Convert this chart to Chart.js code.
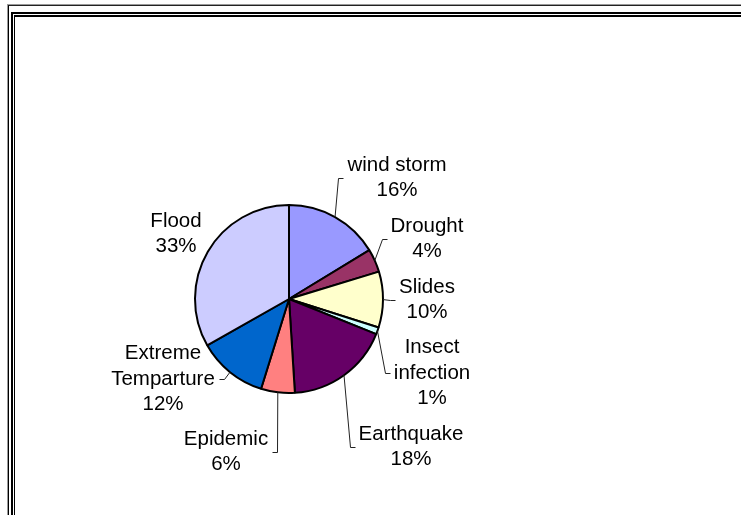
<!DOCTYPE html>
<html>
<head>
<meta charset="utf-8">
<script src="https://cdn.jsdelivr.net/npm/chart.js@4/dist/chart.umd.min.js"></script>
<style>
  html, body { margin: 0; padding: 0; background: #fff; }
  body { width: 741px; height: 515px; position: relative; overflow: hidden; }
  #wrap { position: absolute; left: 0; top: 0; width: 741px; height: 515px; }
  .frame { position: absolute; right: -20px; bottom: -20px; pointer-events: none; }
  #f1 { left: 7px; top: 4px; border-left: 1px solid #999; border-top: 1px solid #999; }
  #f1b { left: 8px; top: 5px; border-left: 1px solid #000; border-top: 1px solid #222; }
  #f2 { left: 11px; top: 12px; border-left: 2px solid #000; border-top: 2px solid #000; }
  #f3 { left: 14px; top: 15px; border-left: 1px solid #000; border-top: 2px solid #000; }
</style>
</head>
<body>
<div id="wrap"><canvas id="c" width="741" height="515"></canvas></div>
<div class="frame" id="f1"></div>
<div class="frame" id="f1b"></div>
<div class="frame" id="f2"></div>
<div class="frame" id="f3"></div>
<script>
// ---- data ----
const categories = ['wind storm', 'Drought', 'Slides', 'Insect infection', 'Earthquake', 'Epidemic', 'Extreme Temparture', 'Flood'];
const shares = [16.3, 4.0, 9.6, 1.2, 17.9, 5.8, 12.0, 33.2];
const sliceColors = ['#9999FF', '#993366', '#FFFFCC', '#CCFFFF', '#660066', '#FF8080', '#0066CC', '#CCCCFF'];

// ---- label layout (offsets of label block centre from pie centre, px) ----
const labelDX = [108, 138, 138, 143, 122, -63, -126, -113];
const labelDY = [-121, -60, 1, 74, 148, 153, 80, -65];
const labelWrap = [false, false, false, true, false, false, true, false];
const labelLeader = [true, true, true, true, true, true, true, false];

const FONT = '20.5px "Liberation Sans", Arial, sans-serif';
const LINE_H = 25.5;

const labelPlugin = {
  id: 'pieLabels',
  afterDatasetsDraw(chart) {
    const ctx = chart.ctx;
    const meta = chart.getDatasetMeta(0);
    const data = chart.data.datasets[0].data;
    const total = data.reduce((a, b) => a + b, 0);
    ctx.save();
    ctx.font = FONT;
    ctx.textAlign = 'center';
    ctx.textBaseline = 'middle';
    meta.data.forEach((arc, i) => {
      const p = arc.getProps(['x', 'y', 'startAngle', 'endAngle', 'outerRadius'], true);
      const name = chart.data.labels[i];
      const lines = labelWrap[i] ? name.split(' ') : [name];
      lines.push(Math.round(data[i] / total * 100) + '%');
      const cx = p.x + labelDX[i];
      const cy = p.y + labelDY[i];
      const w = Math.max(...lines.map(l => ctx.measureText(l).width));
      const top = cy - (lines.length - 1) * LINE_H / 2;
      ctx.fillStyle = '#000';
      lines.forEach((l, k) => ctx.fillText(l, cx, top + k * LINE_H));
      if (labelLeader[i]) {
        const mid = (p.startAngle + p.endAngle) / 2;
        const sx = p.x + Math.cos(mid) * p.outerRadius;
        const sy = p.y + Math.sin(mid) * p.outerRadius;
        const dir = labelDX[i] >= 0 ? 1 : -1;
        const endX = cx - dir * (w / 2 + 4);
        const elbowX = endX - dir * 5;
        const ey = Math.round(cy) + 0.5;
        ctx.strokeStyle = '#222';
        ctx.lineWidth = 1;
        ctx.beginPath();
        ctx.moveTo(sx, sy);
        ctx.lineTo(Math.round(elbowX) + 0.5, ey);
        ctx.lineTo(Math.round(endX) + 0.5, ey);
        ctx.stroke();
      }
    });
    ctx.restore();
  }
};

new Chart(document.getElementById('c'), {
  type: 'pie',
  data: {
    labels: categories,
    datasets: [{
      data: shares,
      backgroundColor: sliceColors,
      borderColor: '#000',
      borderWidth: 2,
      borderAlign: 'center'
    }]
  },
  options: {
    responsive: false,
    animation: false,
    radius: 94,
    layout: { padding: { left: 0, right: 163, top: 83, bottom: 0 } },
    plugins: {
      legend: { display: false },
      tooltip: { enabled: false }
    }
  },
  plugins: [labelPlugin]
});
</script>
</body>
</html>
